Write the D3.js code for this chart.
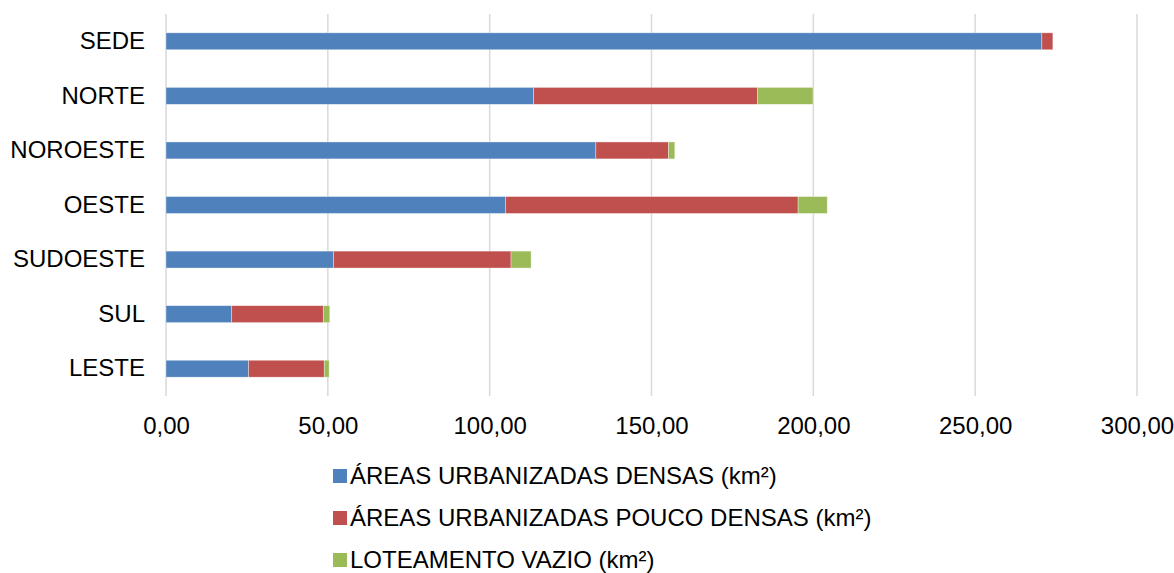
<html>
<head>
<script src="https://d3js.org/d3.v7.min.js"></script>
<style>
body { margin: 0; background: #fff; font-family: "Liberation Sans", Arial, sans-serif; }
</style>
</head>
<body>
<svg class="chart01"></svg>
<script>
var categories = ['SEDE', 'NORTE', 'NOROESTE', 'OESTE', 'SUDOESTE', 'SUL', 'LESTE'];
var densas = [270.6, 113.6, 132.8, 104.9, 51.8, 20.3, 25.5];
var poucoDensas = [3.4, 69.1, 22.5, 90.4, 54.8, 28.3, 23.4];
var loteamento = [0, 17.2, 1.9, 9.0, 6.2, 2.0, 1.5];
var seriesNames = ['ÁREAS URBANIZADAS DENSAS (km²)', 'ÁREAS URBANIZADAS POUCO DENSAS (km²)', 'LOTEAMENTO VAZIO (km²)'];
var colors = ['#4f81bd', '#c0504d', '#9bbb59'];
var xTicks = [0, 50, 100, 150, 200, 250, 300];

var width = 1174, height = 573;
var margin = {top: 14, right: 37, bottom: 177, left: 166};
var font = '"Liberation Sans", Arial, sans-serif';
var svg = d3.select('svg.chart01').attr('width', width).attr('height', height);
var origin = svg.append('g').attr('transform', 'translate(' + margin.left + ',' + margin.top + ')');
var w = width - margin.left - margin.right;
var h = height - margin.top - margin.bottom;

var x = d3.scaleLinear().domain([0, 300]).range([0, w]);
var y = d3.scaleBand().domain(categories).range([0, h]).paddingInner(0.69).paddingOuter(0.345);

//stack the three series
var rows = categories.map(function(c, i) {
	return {cat: c, s0: densas[i], s1: poucoDensas[i], s2: loteamento[i]};
});
var stack = d3.stack().keys(['s0', 's1', 's2'])(rows);

//vertical gridlines
origin.append('g').selectAll('line').data(xTicks).join('line')
	.attr('x1', function(d) { return x(d); }).attr('x2', function(d) { return x(d); })
	.attr('y1', 0).attr('y2', h)
	.attr('stroke', '#d9d9d9').attr('stroke-width', 1.5);

stack.forEach(function(layer, k) {
	origin.append('g').selectAll('rect').data(layer).join('rect')
		.attr('x', function(d) { return x(d[0]); })
		.attr('y', function(d) { return y(d.data.cat); })
		.attr('width', function(d) { return x(d[1]) - x(d[0]); })
		.attr('height', y.bandwidth())
		.attr('fill', colors[k])
		.attr('stroke', '#ffffff').attr('stroke-opacity', 0.5).attr('stroke-width', 0.7);
});

var fmt = function(v) { return d3.format('.2f')(v).replace('.', ','); };
var xAxis = d3.axisBottom(x).tickValues(xTicks).tickFormat(fmt).tickSize(0).tickPadding(21);
var gx = origin.append('g').attr('transform', 'translate(0,' + h + ')').call(xAxis);
gx.select('.domain').remove();
gx.selectAll('text').attr('fill', '#000').style('font-size', '24px').style('font-family', font);

var yAxis = d3.axisLeft(y).tickSize(0).tickPadding(21);
var gy = origin.append('g').call(yAxis);
gy.select('.domain').remove();
gy.selectAll('text').attr('fill', '#000').attr('dy', '0.32em').style('font-size', '24px').style('font-family', font);

//legend
var legend = svg.append('g').attr('transform', 'translate(333,484)');
seriesNames.forEach(function(name, i) {
	var g = legend.append('g').attr('transform', 'translate(0,' + (i * 42) + ')');
	g.append('rect').attr('x', 0).attr('y', -15).attr('width', 14).attr('height', 14).attr('fill', colors[i]);
	g.append('text').attr('x', 17).attr('y', 0)
		.style('font-size', '24px').style('font-family', font)
		.text(name);
});
</script>
</body>
</html>
